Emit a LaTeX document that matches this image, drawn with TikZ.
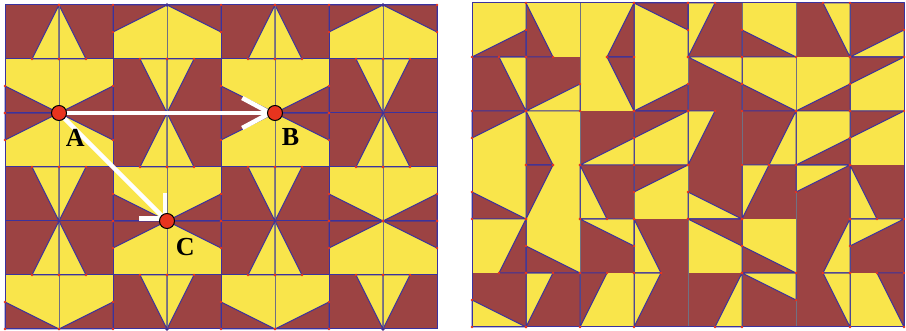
\documentclass[tikz,border=0pt]{standalone}
\usepackage{fontspec}
\setmainfont{Liberation Serif}
\usepackage{tikz}
\usetikzlibrary{arrows.meta, positioning}

\definecolor{tilebrown}{RGB}{156,67,67}
\definecolor{tileyellow}{RGB}{249,229,75}
\definecolor{edgeblue}{RGB}{58,50,158}
\definecolor{gridgray}{RGB}{112,112,130}
\definecolor{dotred}{RGB}{232,52,30}

% tile code: k + 8*(yellow triangle), k = 4*v + 2*py + px
% (px,py) = right-angle corner, v = 1 when the whole side is vertical
\newcommand{\tilepts}[3]{%
  \pgfmathsetmacro\tileX{#1}%
  \pgfmathsetmacro\tileY{#2}%
  \pgfmathtruncatemacro\tilek{mod(#3,8)}%
  \pgfmathtruncatemacro\tilepx{mod(\tilek,2)}%
  \pgfmathtruncatemacro\tilepy{mod(floor(\tilek/2),2)}%
  \pgfmathtruncatemacro\tilev{floor(\tilek/4)}%
  \ifnum#3>7 \def\tcol{tileyellow}\def\rcol{tilebrown}%
  \else \def\tcol{tilebrown}\def\rcol{tileyellow}\fi
  \coordinate (tp) at (\tileX+54*\tilepx, \tileY+54*\tilepy);
  \ifnum\tilev=1
    \coordinate (tq) at (\tileX+54*\tilepx, \tileY+54-54*\tilepy);
    \coordinate (tm) at (\tileX+27, \tileY+54*\tilepy);
  \else
    \coordinate (tq) at (\tileX+54-54*\tilepx, \tileY+54*\tilepy);
    \coordinate (tm) at (\tileX+54*\tilepx, \tileY+27);
  \fi
}
\newcommand{\eachtile}[4]{%
  \foreach \row [count=\rowi from 0] in #3 {%
    \foreach \code [count=\coli from 0] in \row {%
      \tilepts{#1+54*\coli}{#2+54*\rowi}{\code}%
      #4%
    }%
  }%
}

\def\leftrows{{15,14,0,1,15,14,0,1},{2,3,13,12,2,3,13,12},{0,1,15,14,0,1,15,14},%
  {13,12,2,3,13,12,2,3},{15,14,0,1,15,14,0,1},{2,3,13,12,2,3,13,12}}
\def\rightrows{{3,6,7,1,12,2,13,11},{13,11,5,3,9,2,3,0},{0,6,11,0,12,15,3,0},%
  {2,4,14,0,10,12,8,14},{7,2,9,14,1,2,15,8},{10,12,4,12,15,9,13,5}}

\begin{document}
\begin{tikzpicture}[
    x=1pt, y=-1pt,
    tile/.style={draw=edgeblue, line width=1pt, line join=round},
    gridline/.style={draw=gridgray, line width=0.8pt},
    pt/.style={circle, draw=black, line width=1pt, fill=dotred, inner sep=0pt, minimum size=15pt},
    lbl/.style={inner sep=0pt, font=\fontsize{26}{26}\selectfont\bfseries},
    shiftarrow/.style={draw=white, line width=4.5pt}
]
    \useasboundingbox (0,0) rectangle (906,331);

    % ================= LEFT PANEL =================
    \eachtile{5}{5}{\leftrows}{\fill[fill=\rcol] (\tileX,\tileY) rectangle ++(54,54);
                               \fill[fill=\tcol] (tp) -- (tq) -- (tm) -- cycle;}
    \eachtile{5}{5}{\leftrows}{\draw[tile] (tp) -- (tq) -- (tm) -- cycle;}
    \foreach \i in {0,...,6} \draw[tile] (5,5+54*\i) -- ++(432,0);
    \foreach \i in {0,2,...,8} \draw[tile] (5+54*\i,5) -- ++(0,324);
    \foreach \i in {1,3,5,7} \draw[gridline] (5+54*\i,5) -- ++(0,324);
    \eachtile{5}{5}{\leftrows}{\fill[dotred] (tp) circle[radius=1.3pt] (tq) circle[radius=1.3pt] (tm) circle[radius=1.3pt];}
    % centres of the bow ties
    \foreach \p in {(167,5),(383,5),(167,113),(383,113),(59,221),(275,221),(167,329),(383,329)}
        \fill[edgeblue] \p circle[radius=1.8pt];

    % ================= RIGHT PANEL =================
    \eachtile{472}{3}{\rightrows}{\fill[fill=\rcol] (\tileX,\tileY) rectangle ++(54,54);
                                  \fill[fill=\tcol] (tp) -- (tq) -- (tm) -- cycle;}
    \draw[gridline, shift={(472,3)}] (0,0) grid[step=54] (432,324);
    \eachtile{472}{3}{\rightrows}{\draw[tile] (tp) -- (tq) -- (tm) -- cycle;}
    \draw[tile] (472,3) rectangle ++(432,324);
    \eachtile{472}{3}{\rightrows}{\fill[dotred] (tp) circle[radius=1.3pt] (tq) circle[radius=1.3pt] (tm) circle[radius=1.3pt];}

    % ================= TRANSLATIONS =================
    \coordinate (A) at (59,113);
    \coordinate (B) at (275,113);
    \coordinate (C) at (167,221);

    \draw[shiftarrow, -{Straight Barb[length=28pt, width=30pt]}] (A) -- (B);
    \draw[shiftarrow, -{Straight Barb[length=18pt, width=36pt]}] (A) -- (C);

    \node[pt] (ptA) at (A) {};
    \node[pt] (ptB) at (B) {};
    \node[pt] (ptC) at (C) {};

    \node[lbl, below right=10pt and 1pt of ptA] (labA) {A};
    \node[lbl, below right=10pt and 1pt of ptB] (labB) {B};
    \node[lbl, below right=11pt and 3pt of ptC] (labC) {C};

\end{tikzpicture}
\end{document}
